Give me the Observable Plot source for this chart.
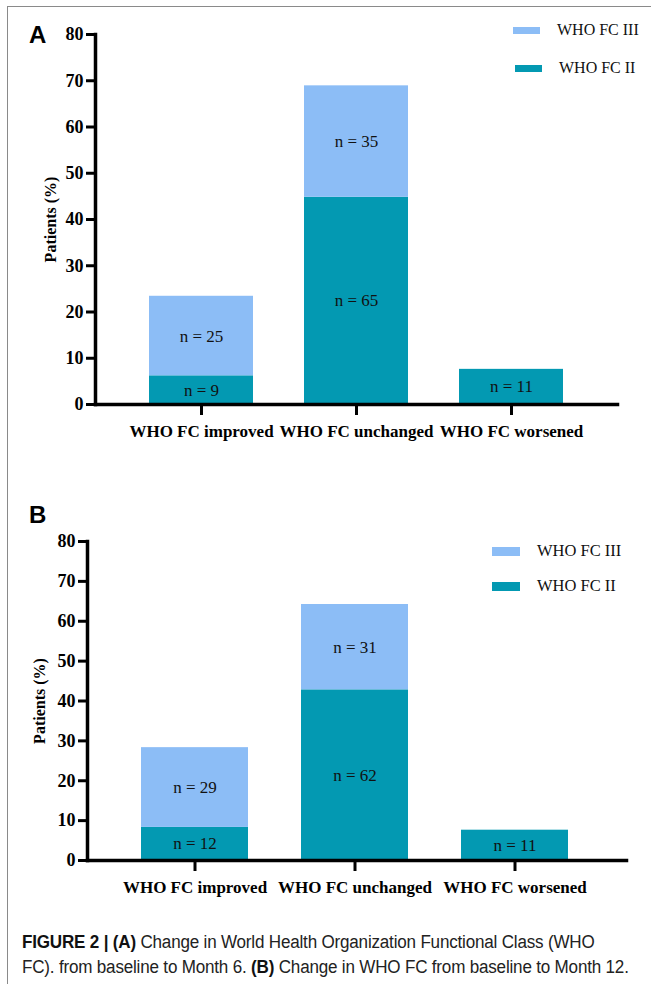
<!DOCTYPE html>
<html>
<head>
<meta charset="utf-8">
<script src="https://cdn.jsdelivr.net/npm/d3@7"></script>
<script src="https://cdn.jsdelivr.net/npm/@observablehq/plot@0.6"></script>
<style>
  html, body { margin: 0; padding: 0; background: #fff; }
  #page { position: relative; width: 651px; height: 984px; overflow: hidden; background: #fff; }
  #border { position: absolute; left: 7px; top: 6px; width: 700px; height: 1100px;
            border-left: 1.5px solid #8a8a8a; border-top: 1.5px solid #8a8a8a; }
  .panel { position: absolute; left: 0; }
  .letter { position: absolute; font-family: "Liberation Sans", Arial, sans-serif; font-weight: bold;
            font-size: 24px; line-height: 22px; color: #000; }
  .sw { position: absolute; }
  .lt { position: absolute; font-family: "Liberation Serif", "Times New Roman", serif; font-size: 16px;
        line-height: 20px; color: #111; white-space: nowrap; }
  #caption { position: absolute; left: 22px; top: 930px; font-family: "Liberation Sans", Arial, sans-serif;
             font-size: 18px; line-height: 25px; color: #222; white-space: nowrap;
             transform-origin: 0 0; transform: scaleX(0.947); letter-spacing: -0.2px; }
  #caption b { color: #111; }
</style>
</head>
<body>
<div id="page">
  <div id="border"></div>
</div>
<script>
// ---- data ----
const categories = ["WHO FC improved", "WHO FC unchanged", "WHO FC worsened"];
const seriesNames = ["WHO FC II", "WHO FC III"];
const legendOrder = ["WHO FC III", "WHO FC II"];
const yTicks = [0, 10, 20, 30, 40, 50, 60, 70, 80];

// Panel A: baseline to Month 6 (% of patients)
const fc2PctA = [6.2, 44.8, 7.6];
const fc3PctA = [17.2, 24.1, 0];
const fc2NA = [9, 65, 11];
const fc3NA = [25, 35, 0];

// Panel B: baseline to Month 12 (% of patients)
const fc2PctB = [8.3, 42.8, 7.6];
const fc3PctB = [20.0, 21.4, 0];
const fc2NB = [12, 62, 11];
const fc3NB = [29, 31, 0];

const yLabel = "Patients (%)";
const colors = ["#0399b2", "#8cbdf6"]; // FC II, FC III
const serif = '"Liberation Serif", "Times New Roman", serif';

function rowsFor(p2, p3, n2, n3) {
  const rows = [];
  categories.forEach((c, i) => rows.push({cat: c, fc: seriesNames[0], value: p2[i], n: n2[i]}));
  categories.forEach((c, i) => rows.push({cat: c, fc: seriesNames[1], value: p3[i], n: n3[i]}));
  return rows;
}

function makePanel(rows, o) {
  return Plot.plot({
    width: 651,
    height: o.height,
    marginTop: o.marginTop,
    marginBottom: 46,
    marginLeft: o.marginLeft,
    marginRight: o.marginRight,
    style: {fontFamily: serif, background: "transparent", overflow: "visible", color: "#000"},
    x: {domain: categories, range: o.range, paddingInner: 0.33, paddingOuter: 0.165, label: null},
    y: {domain: [0, 80], label: null},
    color: {domain: seriesNames, range: colors},
    marks: [
      Plot.barY(rows, {x: "cat", y: "value", fill: "fc"}),
      Plot.text(rows, Plot.stackY({
        x: "cat", y: "value", z: "fc",
        text: d => d.value > 0 ? `n = ${d.n}` : "",
        fontSize: 17, fill: "#111", fontFamily: serif
      })),
      Plot.axisY({ticks: yTicks, tickSize: 9, tickPadding: 3, strokeWidth: 3, stroke: "#000",
                  fontSize: 18, fontWeight: "bold", fill: "#000", label: null}),
      Plot.axisX({tickSize: 11, tickPadding: 9, strokeWidth: 3, stroke: "#000",
                  fontSize: 17, fontWeight: "bold", fill: "#000", label: null}),
      Plot.frame({anchor: "left", stroke: "#000", strokeWidth: 3.5}),
      Plot.frame({anchor: "bottom", stroke: "#000", strokeWidth: 3.5}),
      Plot.text([yLabel], {frameAnchor: "left", dx: o.labelDx, rotate: -90, textAnchor: "middle",
                           fontSize: 16, fontWeight: "bold", fill: "#000", fontFamily: serif})
    ]
  });
}

const page = document.getElementById("page");

function addPanel(rows, o, letter, letterTop, legend) {
  const chart = makePanel(rows, o);
  chart.classList.add("panel");
  chart.style.top = o.top + "px";
  page.appendChild(chart);
  const L = document.createElement("div");
  L.className = "letter";
  L.textContent = letter;
  L.style.left = "29px";
  L.style.top = letterTop + "px";
  page.appendChild(L);
  const color = chart.scale("color");
  legendOrder.forEach((name, i) => {
    const r = legend[i];
    const sw = document.createElement("div");
    sw.className = "sw";
    Object.assign(sw.style, {left: r.sx + "px", top: r.sy + "px", width: r.sw + "px", height: r.sh + "px",
                             background: color.apply(name)});
    page.appendChild(sw);
    const t = document.createElement("div");
    t.className = "lt";
    t.textContent = name;
    Object.assign(t.style, {left: r.tx + "px", top: (r.ty - 10) + "px", fontSize: r.fs + "px"});
    page.appendChild(t);
  });
}

addPanel(rowsFor(fc2PctA, fc3PctA, fc2NA, fc3NA),
  {top: 0, height: 450, marginTop: 34, marginLeft: 95, marginRight: 34, range: [122.25, 588.75], labelDx: -45},
  "A", 24,
  [{sx: 513, sy: 27, sw: 27, sh: 7, tx: 557, ty: 30, fs: 16},
   {sx: 515, sy: 65, sw: 27, sh: 7, tx: 559, ty: 68, fs: 16}]);

addPanel(rowsFor(fc2PctB, fc3PctB, fc2NB, fc3NB),
  {top: 480, height: 426, marginTop: 61, marginLeft: 87, marginRight: 25, range: [113.6, 595.9], labelDx: -48},
  "B", 504,
  [{sx: 492, sy: 547, sw: 28, sh: 9, tx: 537, ty: 551, fs: 16.5},
   {sx: 492, sy: 582, sw: 28, sh: 9, tx: 537, ty: 586, fs: 16.5}]);

const cap = document.createElement("div");
cap.id = "caption";
cap.innerHTML = '<b>FIGURE 2 | (A)</b> Change in World Health Organization Functional Class (WHO<br>' +
                'FC). from baseline to Month 6. <b>(B)</b> Change in WHO FC from baseline to Month 12.';
page.appendChild(cap);
</script>
</body>
</html>
